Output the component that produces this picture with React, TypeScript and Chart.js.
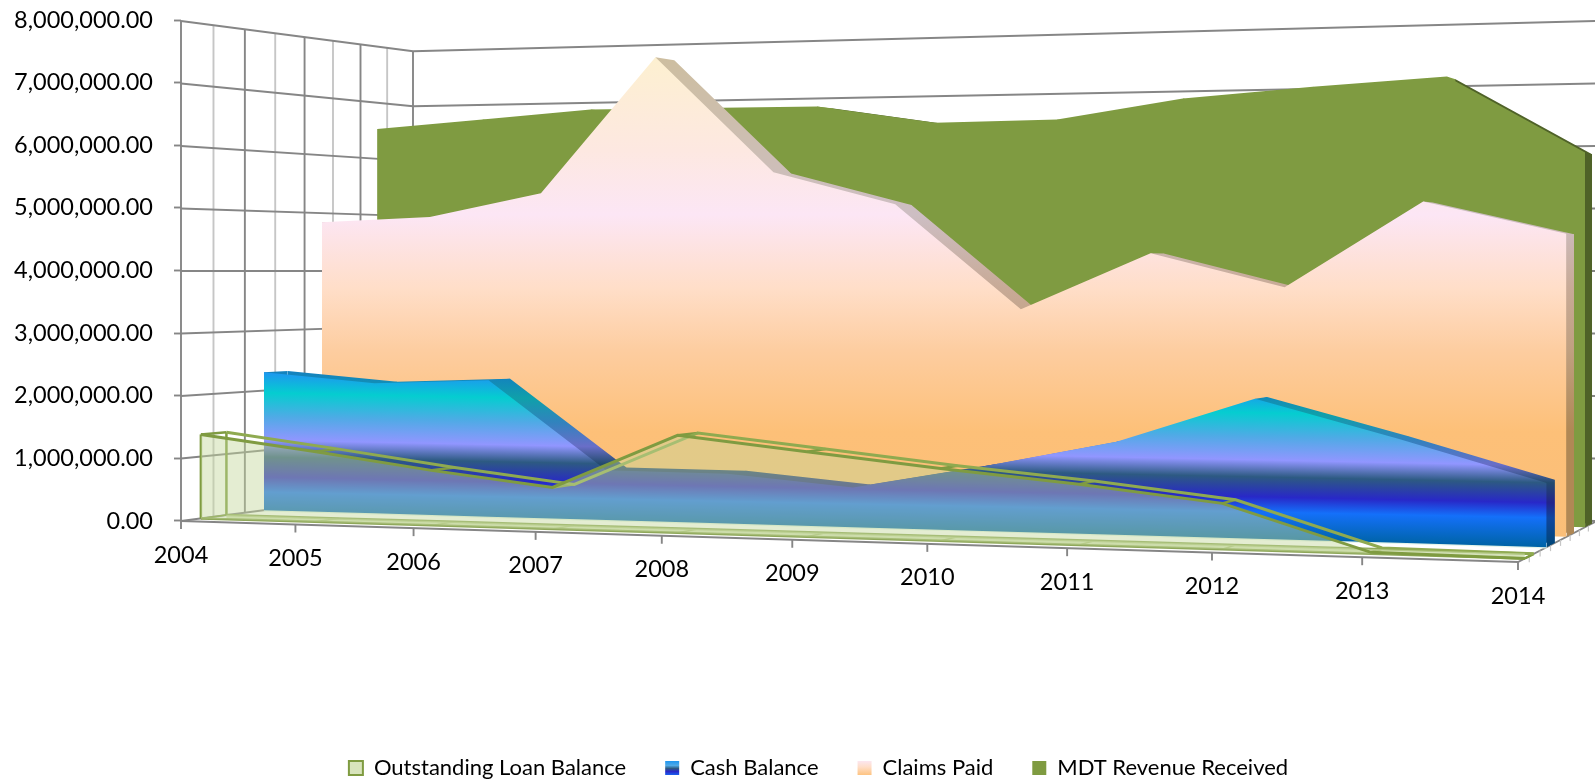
import React, { useEffect, useRef } from "react";
import { Chart, registerables } from "chart.js";

Chart.register(...registerables);

const years = [2004, 2005, 2006, 2007, 2008, 2009, 2010, 2011, 2012, 2013, 2014];
const loanBalance = [1358000, 1120000, 865000, 645000, 1490000, 1280000, 1070000, 885000, 660000, 20000, 0];
const cashBalance = [2305000, 2147000, 2220000, 800000, 790000, 620000, 990000, 1410000, 2090000, 1530000, 930000];
const claimsPaid = [4840000, 4920000, 5310000, 7550000, 5620000, 5080000, 3390000, 4280000, 3750000, 5060000, 4560000];
const mdtRevenue = [6530000, 6670000, 6810000, 6800000, 6790000, 6480000, 6500000, 6810000, 6960000, 7080000, 5850000];
const yTicksMax = 8000000;
const depthMinor = [1, 2, 3, 4, 5, 6, 7];

const loanName = "Outstanding Loan Balance";
const cashName = "Cash Balance";
const claimsName = "Claims Paid";
const mdtName = "MDT Revenue Received";

// floor quad of the 3-D box, and horizon
const A = { x: 181, y: 521 };
const B = { x: 1518, y: 562 };
const C = { x: 1597, y: 521 };
const D = { x: 413, y: 490.7 };
const HORIZON = 271;
const HORIZON_VALUE = 4000000;
const SLAB = 0.1;
const LEGEND_SHIFT = 21;
const depths = { loan: 0.076, cash: 0.328, claims: 0.576, mdt: 0.828 };

const hom = (() => {
  const dx1 = B.x - C.x, dx2 = D.x - C.x, sx = A.x - B.x + C.x - D.x;
  const dy1 = B.y - C.y, dy2 = D.y - C.y, sy = A.y - B.y + C.y - D.y;
  const den = dx1 * dy2 - dx2 * dy1;
  const g = (sx * dy2 - dx2 * sy) / den;
  const h = (dx1 * sy - sx * dy1) / den;
  return {
    a: B.x - A.x + g * B.x, b: D.x - A.x + h * D.x, c: A.x,
    d: B.y - A.y + g * B.y, e: D.y - A.y + h * D.y, f: A.y, g, h,
  };
})();

function floorPoint(u: number, w: number) {
  const q = hom.g * u + hom.h * w + 1;
  return { x: (hom.a * u + hom.b * w + hom.c) / q, y: (hom.d * u + hom.e * w + hom.f) / q };
}
function lift(yScale: any, py: number) {
  const zero = yScale.getPixelForValue(0);
  return (zero - py) / (zero - yScale.getPixelForValue(HORIZON_VALUE));
}
function project(u: number, w: number, l: number) {
  const f = floorPoint(u, w);
  return { x: f.x, y: f.y + (HORIZON - f.y) * l };
}

const TICK_FONT = 23.5;

const perspectivePlugin = {
  id: "perspective",
  afterLayout(chart: any) {
    if (chart.legend) {
      chart.legend.left += LEGEND_SHIFT;
      chart.legend.right += LEGEND_SHIFT;
    }
  },
  afterDatasetsUpdate(chart: any) {
    const xs = chart.scales.x, ys = chart.scales.y;
    chart.data.datasets.forEach((ds: any, i: number) => {
      const meta = chart.getDatasetMeta(i);
      meta.data.forEach((pt: any, k: number) => {
        const w = Array.isArray(ds.plane) ? ds.plane[k] : ds.plane;
        const u = (pt.x - xs.left) / (xs.right - xs.left);
        const p = project(u, w, lift(ys, pt.y));
        pt.x = p.x;
        pt.y = p.y;
      });
    });
  },
  beforeDatasetsDraw(chart: any) {
    const ctx = chart.ctx, xs = chart.scales.x, ys = chart.scales.y;
    const major = "#868686", minor = "#c6c6c6";
    const poly = (pts: any[], color: string, width = 1.9) => {
      ctx.beginPath();
      pts.forEach((p, i) => (i ? ctx.lineTo(p.x, p.y) : ctx.moveTo(p.x, p.y)));
      ctx.strokeStyle = color;
      ctx.lineWidth = width;
      ctx.stroke();
    };
    ctx.save();
    const topLift = lift(ys, ys.getPixelForValue(yTicksMax));
    depthMinor.forEach((k) => {
      const w = k / 8;
      poly([project(0, w, 0), project(0, w, topLift)], k % 2 ? minor : major);
    });
    poly([project(0, 0, 0), project(0, 0, topLift)], major);
    poly([project(0, 1, 0), project(0, 1, topLift)], major);
    ys.ticks.forEach((t: any) => {
      const l = lift(ys, ys.getPixelForValue(t.value));
      poly([project(0, 0, l), project(0, 1, l), project(1, 1, l)], major);
    });
    poly([project(0, 0, 0), project(1, 0, 0), project(1, 1, 0)], major);
    depthMinor.forEach((k) => {
      const p = project(1, k / 8, 0);
      poly([p, { x: p.x, y: p.y + 6 }], minor, 1.2);
    });
    ctx.font = `${TICK_FONT}px Lato`;
    ctx.fillStyle = "#000";
    ctx.textAlign = "center";
    ctx.textBaseline = "middle";
    xs.ticks.forEach((t: any) => {
      const u = (xs.getPixelForValue(t.value) - xs.left) / (xs.right - xs.left);
      const p = project(u, 0, 0);
      poly([p, { x: p.x, y: p.y + 8 }], major);
      ctx.fillText(String(t.value), p.x, p.y + 34);
    });
    ctx.restore();
  },
};

const cashOffsets = [0.025, 0.156, 0.306, 0.45, 0.556, 0.681, 0.775, 0.95];
const cashFront = ["#1E96F0", "#05CDD0", "#50AAE6", "#9196FF", "#2D5A82", "#2828C8", "#1470FA", "#0064AA"];
const cashSide = ["#1482BE", "#0FA0AA", "#3282BE", "#696EC8", "#234B6E", "#23238C", "#0F46A0", "#004678"];
const claimsOffsets = [0, 0.19, 0.32, 0.47, 0.595, 0.76, 1];
const claimsFront = ["#FDF0D0", "#FDE8E1", "#FCE6F5", "#FFDEC8", "#FDCDA0", "#FDC078", "#FABE78"];
const claimsSide = ["#CDBEA0", "#CDBEB4", "#CDBEC3", "#C8AA96", "#C0A080", "#B08855", "#B08855"];

function grad(ctx: CanvasRenderingContext2D, x0: number, y0: number, x1: number, y1: number, offs: number[], cols: string[]) {
  const g = ctx.createLinearGradient(x0, y0, x1, y1);
  offs.forEach((o, i) => g.addColorStop(o, cols[i]));
  return g;
}

const flat = (values: number[]) => values.map((v, i) => ({ x: years[i], y: v }));
const zeros = years.map((y) => ({ x: y, y: 0 }));

const hiddenBase = (plane: number, extra: any = {}) => ({
  data: zeros, plane, borderWidth: 0, pointRadius: 0, fill: false, clip: false, ...extra,
});

// Small filled quads joining the front and back face of a slab at each year.
function caps(values: number[], w0: number, color: any, lastColor: any = color) {
  const out: any[] = [];
  values.forEach((v, i) => {
    const plane = [w0, w0 + SLAB];
    out.push({
      data: [{ x: years[i], y: v }, { x: years[i], y: v }],
      plane, fill: "+1", backgroundColor: i === values.length - 1 ? lastColor : color,
      borderWidth: 0, pointRadius: 0, clip: false,
    });
    out.push({
      data: [{ x: years[i], y: 0 }, { x: years[i], y: 0 }],
      plane, fill: false, borderWidth: 0, pointRadius: 0, clip: false,
    });
  });
  return out;
}

export default function App() {
  const ref = useRef<HTMLCanvasElement | null>(null);
  useEffect(() => {
    document.body.style.margin = "0";
    const canvas = ref.current!;
    const ctx = canvas.getContext("2d")!;
    const olive = "#7F9B41";
    const loanFill = "rgba(195,214,155,0.45)";
    const mk = (data: any, plane: number, fillColor: any, extra: any = {}) => ({
      data, plane, fill: "+1", backgroundColor: fillColor, borderWidth: 0, pointRadius: 0, clip: false, ...extra,
    });
    const cashF = grad(ctx, 264, 368, 260.8, 528, cashOffsets, cashFront);
    const cashS = grad(ctx, 264, 368, 260.8, 528, cashOffsets, cashSide);
    const claimsF = grad(ctx, 0, 57, 0, 550, claimsOffsets, claimsFront);
    const claimsS = grad(ctx, 0, 57, 0, 550, claimsOffsets, claimsSide);
    const rungs = years.map((y, i) => ({
      data: [{ x: y, y: loanBalance[i] }, { x: y, y: loanBalance[i] }],
      plane: [depths.loan, depths.loan + SLAB],
      borderColor: olive, borderWidth: 2.5, pointRadius: 0, fill: false, clip: false,
    }));
    const floorRungs = years.map((y) => ({
      data: [{ x: y, y: 0 }, { x: y, y: 0 }],
      plane: [depths.loan, depths.loan + SLAB],
      borderColor: olive, borderWidth: 1.5, pointRadius: 0, fill: false, clip: false,
    }));
    const edges = [depths.loan, depths.loan + SLAB].map((w) => ({
      data: [{ x: years[0], y: 0 }, { x: years[0], y: loanBalance[0] }],
      plane: w, borderColor: olive, borderWidth: 2.5, pointRadius: 0, fill: false, clip: false,
    }));
    const datasets: any[] = [
      mk(flat(loanBalance), depths.loan, loanFill, { label: loanName, borderWidth: 3, borderColor: olive }),
      hiddenBase(depths.loan, { borderWidth: 2.5, borderColor: "#8FA85A", fill: "+2", backgroundColor: "rgba(195,214,155,0.7)" }),
      hiddenBase(depths.loan + SLAB, { data: flat(loanBalance), borderWidth: 3, borderColor: "#8FAA50" }),
      hiddenBase(depths.loan + SLAB, { borderWidth: 2.5, borderColor: "#8FA85A" }),
      ...rungs,
      ...floorRungs,
      ...edges,
      mk(flat(cashBalance), depths.cash, cashF, { label: cashName }),
      hiddenBase(depths.cash, { borderWidth: 2.5, borderColor: "#E4F4EA" }),
      ...caps(cashBalance, depths.cash, cashS),
      mk(flat(cashBalance), depths.cash + SLAB, cashS),
      hiddenBase(depths.cash + SLAB),
      mk(flat(claimsPaid), depths.claims, claimsF, { label: claimsName }),
      hiddenBase(depths.claims),
      ...caps(claimsPaid, depths.claims, claimsS),
      mk(flat(claimsPaid), depths.claims + SLAB, claimsS),
      hiddenBase(depths.claims + SLAB),
      mk(flat(mdtRevenue), depths.mdt, "#7F9B41", { label: mdtName }),
      hiddenBase(depths.mdt),
      ...caps(mdtRevenue, depths.mdt, "#7F9B41", "#4F6228"),
      mk(flat(mdtRevenue), depths.mdt + SLAB, "#4F6228"),
      hiddenBase(depths.mdt + SLAB),
    ];
    const swatchCash = grad(ctx, 0, 761, 0, 776, [0, 0.3, 0.5, 0.7, 1], ["#1E96F0", "#50AAE6", "#2D5A82", "#2828C8", "#1470FA"]);
    const swatchClaims = grad(ctx, 0, 761, 0, 776, [0, 0.4, 1], ["#FCE6F0", "#FFDEC8", "#FDC078"]);
    const chart = new Chart(canvas, {
      type: "line",
      data: { datasets },
      plugins: [perspectivePlugin],
      options: {
        animation: false,
        responsive: false,
        devicePixelRatio: 1,
        layout: { padding: { top: 20, left: 0, right: 0, bottom: -6 } },
        scales: {
          x: {
            type: "linear",
            min: years[0],
            max: years[years.length - 1],
            ticks: { display: false, stepSize: 1 },
            grid: { display: false },
            border: { display: false },
            afterFit: (s: any) => { s.height = 134.4; },
          },
          y: {
            type: "linear",
            min: -1000000,
            max: yTicksMax,
            ticks: {
              stepSize: 1000000,
              autoSkip: false,
              padding: 21,
              color: "#000",
              font: { family: "Lato", size: TICK_FONT },
              callback: (v: any) => Number(v).toLocaleString("en-US", { minimumFractionDigits: 2, maximumFractionDigits: 2 }),
            },
            grid: { drawOnChartArea: false, drawTicks: true, tickLength: 7, tickColor: "#868686", tickWidth: 1.9 },
            border: { display: false },
            afterBuildTicks: (s: any) => { s.ticks = s.ticks.filter((t: any) => t.value >= 0); },
            afterFit: (s: any) => { s.width = 181; s.paddingTop = 0; s.paddingBottom = 0; },
          },
        },
        plugins: {
          tooltip: { enabled: false },
          legend: {
            display: true,
            position: "bottom",
            labels: {
              boxWidth: 14,
              boxHeight: 14,
              padding: 39,
              color: "#000",
              font: { family: "Lato", size: 22 },
              generateLabels: () => [
                { text: loanName, fillStyle: "#D8E4BC", strokeStyle: olive, lineWidth: 2, hidden: false },
                { text: cashName, fillStyle: swatchCash, strokeStyle: "transparent", lineWidth: 0, hidden: false },
                { text: claimsName, fillStyle: swatchClaims, strokeStyle: "transparent", lineWidth: 0, hidden: false },
                { text: mdtName, fillStyle: "#7F9B41", strokeStyle: "transparent", lineWidth: 0, hidden: false },
              ],
            },
          },
        },
      },
    } as any);
    return () => chart.destroy();
  }, []);
  return <canvas ref={ref} width={1595} height={783} style={{ display: "block" }} />;
}
